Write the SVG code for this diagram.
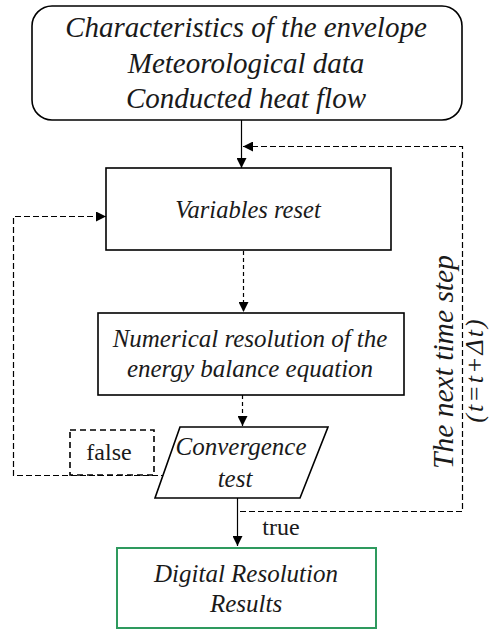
<svg xmlns="http://www.w3.org/2000/svg" width="491" height="630" viewBox="0 0 491 630">
<defs>
<marker id="ah" viewBox="0 0 10 10" refX="10" refY="5" markerWidth="10" markerHeight="10" markerUnits="userSpaceOnUse" orient="auto">
<path d="M0,0 L10,5 L0,10 Z" fill="#000"/>
</marker>
</defs>
<style>
.box{fill:#fff;stroke:#000;stroke-width:1.6}
.t{font-style:italic;fill:#1a1a1a;text-anchor:middle}
.n{fill:#1a1a1a;text-anchor:middle}
.solid{fill:none;stroke:#000;stroke-width:1.2}
.dash{fill:none;stroke:#000;stroke-width:1.2;stroke-dasharray:6 3}
.dash2{fill:none;stroke:#000;stroke-width:1.2;stroke-dasharray:4 3}
</style>
<rect width="491" height="630" fill="#fff"/>
<g font-family="'Liberation Serif', 'Times New Roman', serif">
<g id="connectors">
<path class="solid" d="M241.5,120 V168" marker-end="url(#ah)"/>
<path class="dash" d="M240,511.5 H462.5 V146.5 H243" marker-end="url(#ah)"/>
<path class="dash" d="M167,475.5 H13.5 V216.5 H106" marker-end="url(#ah)"/>
<path class="dash2" d="M243.5,251 V312" marker-end="url(#ah)"/>
<path class="dash2" d="M242.5,395 V426" marker-end="url(#ah)"/>
<path class="solid" d="M237.5,498 V546" marker-end="url(#ah)"/>
<text class="n" x="281" y="535" font-size="24">true</text>
<text class="t" transform="translate(453,362) rotate(-90)" font-size="29.5">The next time step</text>
<text class="t" transform="translate(483,370) rotate(-90)" font-size="26" letter-spacing="2">(t=t+Δt)</text>
</g>
<g id="inputs">
<rect class="box" x="32" y="6" width="430" height="114" rx="20"/>
<text class="t" x="246" y="37" font-size="29">Characteristics of the envelope</text>
<text class="t" x="246" y="73" font-size="29">Meteorological data</text>
<text class="t" x="246" y="108" font-size="29">Conducted heat flow</text>
</g>
<g id="reset">
<rect class="box" x="106" y="168" width="285" height="82"/>
<text class="t" x="248" y="218" font-size="24.5">Variables reset</text>
</g>
<g id="numerical">
<rect class="box" x="98" y="313" width="306" height="82"/>
<text class="t" x="250" y="347" font-size="25">Numerical resolution of the</text>
<text class="t" x="250" y="377" font-size="25">energy balance equation</text>
</g>
<g id="convergence">
<path class="box" d="M180,427 H328 L300,498 H155 Z"/>
<text class="t" x="241" y="455" font-size="25">Convergence</text>
<text class="t" x="235" y="487" font-size="25">test</text>
</g>
<g id="false">
<rect x="70" y="430" width="84" height="45" fill="#fff" stroke="#000" stroke-width="1.6" stroke-dasharray="6 4"/>
<text class="n" x="109" y="460" font-size="24">false</text>
</g>
<g id="results">
<rect x="117" y="548" width="259" height="80" fill="#fff" stroke="#2e9a5e" stroke-width="2"/>
<text class="t" x="246" y="582" font-size="25">Digital Resolution</text>
<text class="t" x="246" y="612" font-size="25">Results</text>
</g>
</g>
</svg>
